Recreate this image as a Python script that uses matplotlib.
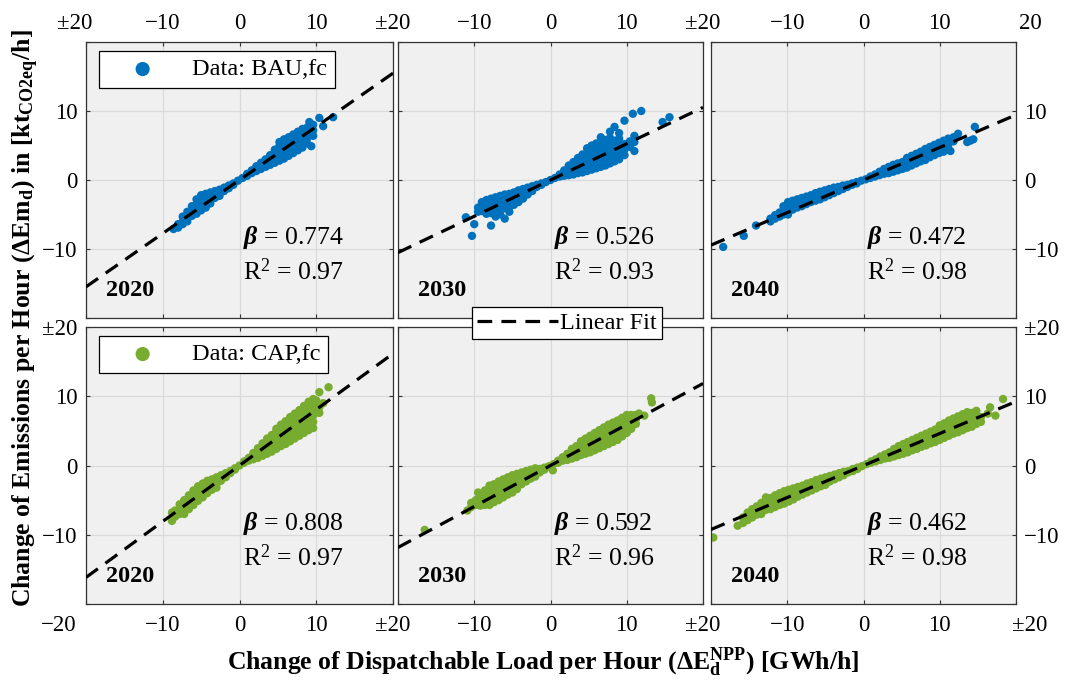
import matplotlib
matplotlib.use('Agg')
import matplotlib.pyplot as plt
import matplotlib.transforms as mtransforms

plt.rcParams['font.family'] = ['Liberation Serif', 'DejaVu Serif']
plt.rcParams['mathtext.fontset'] = 'custom'
plt.rcParams['mathtext.rm'] = 'Liberation Serif'
plt.rcParams['mathtext.it'] = 'Liberation Serif:italic'
plt.rcParams['mathtext.bf'] = 'Liberation Serif:bold'
plt.rcParams['mathtext.bfit'] = 'Liberation Serif:bold:italic'
plt.rcParams['mathtext.default'] = 'regular'

# ---------------- data ----------------
years = ['2020', '2030', '2040']
beta_bau = [0.774, 0.526, 0.472]
r2_bau = [0.97, 0.93, 0.98]
beta_cap = [0.808, 0.592, 0.462]
r2_cap = [0.97, 0.96, 0.98]

# each entry: (x, [y values at that x])
bau_2020 = [
    (-8.6, [-7.1]), (-8.0, [-6.4, -6.9]), (-7.4, [-5.3, -6.0, -6.4]),
    (-6.8, [-4.6, -5.3, -6.0]), (-6.2, [-3.8, -4.5, -5.2]),
    (-5.6, [-2.8, -3.5, -4.2, -4.9]), (-5.0, [-2.2, -2.9, -3.6, -4.4]),
    (-4.4, [-2.0, -2.7, -3.4, -4.0]), (-3.8, [-1.8, -2.4, -3.0, -3.4]),
    (-3.2, [-1.6, -2.1, -2.6]), (-2.6, [-1.4, -1.9, -2.3]),
    (-2.0, [-1.1, -1.6]), (-1.4, [-0.8, -1.2]), (-0.8, [-0.5, -0.7]),
    (-0.2, [-0.1]), (0.4, [0.3]), (1.0, [0.6, 0.9]), (1.6, [1.0, 1.4]),
    (2.2, [1.3, 1.8, 2.0]), (2.8, [1.6, 2.1, 2.5]), (3.4, [1.9, 2.5, 3.0]),
    (4.0, [2.2, 2.8, 3.4, 3.6]), (4.6, [2.5, 3.2, 3.8, 4.4]),
    (5.2, [2.8, 3.5, 4.2, 4.9, 5.5]), (5.8, [3.1, 3.8, 4.5, 5.2, 5.9]),
    (6.4, [3.5, 4.2, 4.9, 5.6, 6.2]), (7.0, [3.9, 4.6, 5.3, 6.0, 6.6]),
    (7.6, [4.3, 5.0, 5.7, 6.4, 7.0]), (8.2, [4.7, 5.4, 6.1, 6.8, 7.4]),
    (8.8, [5.3, 6.0, 6.8, 7.6]), (9.1, [8.4]), (9.35, [4.9]),
    (9.6, [6.4, 7.2, 8.0]), (10.4, [9.0]), (10.9, [7.8]), (12.2, [9.1]),
]
bau_2030 = [
    (-11.1, [-5.4]), (-10.3, [-8.1]), (-10.0, [-6.4]), (-9.5, [-4.0, -4.6]),
    (-9.0, [-3.2, -3.9, -4.5]), (-8.4, [-2.9, -3.5, -4.2, -4.9]),
    (-7.8, [-2.7, -3.4, -4.1, -4.8, -6.6]), (-7.2, [-2.5, -3.1, -3.8, -4.5, -5.3]),
    (-6.6, [-2.3, -3.0, -3.6, -4.3, -5.0]), (-6.0, [-2.1, -2.8, -3.4, -4.1, -5.6]),
    (-5.4, [-2.0, -2.6, -3.2, -3.9, -4.6]), (-4.8, [-1.8, -2.4, -3.0, -3.6]),
    (-4.2, [-1.5, -2.1, -2.7, -3.2]), (-3.6, [-1.3, -1.8, -2.3, -2.7]),
    (-3.0, [-1.1, -1.6, -2.1]), (-2.4, [-0.9, -1.3, -1.6]),
    (-1.8, [-0.7, -1.0]), (-1.2, [-0.5, -0.7]), (-0.6, [-0.3]), (0.0, [0.0]),
    (0.6, [0.3]), (1.2, [0.5, 0.8]), (1.8, [0.6, 1.1, 1.4]),
    (2.4, [0.7, 1.3, 1.8, 2.1]), (3.0, [0.8, 1.4, 2.0, 2.6]),
    (3.6, [1.0, 1.6, 2.2, 2.8, 3.2]), (4.2, [1.1, 1.7, 2.4, 3.0, 3.7]),
    (4.8, [1.3, 1.9, 2.6, 3.3, 4.0, 4.6]), (5.4, [1.5, 2.1, 2.8, 3.5, 4.2, 5.0]),
    (6.0, [1.7, 2.4, 3.1, 3.8, 4.5, 5.3]), (6.6, [1.9, 2.6, 3.3, 4.0, 4.7, 5.5, 6.2]),
    (7.2, [2.1, 2.8, 3.5, 4.2, 5.0, 5.8]), (7.8, [2.4, 3.1, 3.8, 4.5, 5.3, 6.1, 7.0]),
    (8.4, [2.7, 3.4, 4.1, 4.9, 5.7, 7.7]), (9.0, [3.0, 3.7, 4.4, 5.2, 6.0, 6.8]),
    (9.7, [3.6, 4.4, 5.2, 8.6]), (10.4, [4.8, 5.6]), (10.8, [9.6]),
    (11.0, [4.2, 5.5, 6.4]), (11.9, [10.0]), (14.7, [8.4]), (15.6, [9.1]),
]
bau_2040 = [
    (-18.4, [-9.7]), (-15.7, [-8.1]), (-14.1, [-6.6]), (-12.2, [-5.6, -6.0]),
    (-11.6, [-5.1, -5.6]), (-11.0, [-4.7, -5.3]), (-10.5, [-3.8, -4.5, -5.0]),
    (-9.9, [-3.2, -3.9, -4.6, -5.0]), (-9.3, [-3.0, -3.6, -4.3]),
    (-8.7, [-2.8, -3.4, -4.0]), (-8.1, [-2.6, -3.2, -3.8]),
    (-7.5, [-2.4, -2.9, -3.5]), (-6.9, [-2.2, -2.7, -3.2]),
    (-6.3, [-1.9, -2.5, -3.0]), (-5.7, [-1.7, -2.3, -2.8]),
    (-5.1, [-1.5, -2.0, -2.5]), (-4.5, [-1.3, -1.8, -2.2]),
    (-3.9, [-1.1, -1.6, -1.9]), (-3.3, [-1.0, -1.4, -1.6]),
    (-2.7, [-0.8, -1.1, -1.3]), (-2.1, [-0.7, -1.0]), (-1.5, [-0.5, -0.7]),
    (-0.9, [-0.3, -0.5]), (-0.3, [-0.1]), (0.3, [0.1]), (0.9, [0.3, 0.5]),
    (1.5, [0.5, 0.8]), (2.1, [0.7, 1.0, 1.2]), (2.7, [0.9, 1.3, 1.6]),
    (3.3, [1.0, 1.5, 1.9]), (3.9, [1.2, 1.7, 2.2]), (4.5, [1.4, 1.9, 2.4]),
    (5.1, [1.6, 2.1, 2.6]), (5.7, [1.8, 2.4, 2.9, 3.2]),
    (6.3, [2.1, 2.6, 3.2, 3.5]), (6.9, [2.4, 2.9, 3.4, 3.8]),
    (7.5, [2.7, 3.2, 3.7, 4.1]), (8.1, [2.9, 3.5, 4.0, 4.5]),
    (8.7, [3.3, 3.8, 4.3, 4.8]), (9.3, [3.6, 4.2, 4.7, 5.1]),
    (9.9, [3.9, 4.5, 5.0, 5.4]), (10.5, [4.1, 4.8, 5.3, 5.7]),
    (11.1, [4.4, 5.0, 5.6, 6.0]), (11.4, [4.2]), (11.8, [5.6, 6.2]),
    (12.4, [6.7]), (13.6, [5.5]), (14.0, [5.7]), (14.4, [5.9]), (14.6, [7.7]),
]
cap_2020 = [
    (-8.8, [-6.8, -8.0]), (-8.4, [-6.5, -7.4]), (-7.8, [-5.6, -6.3, -7.0]),
    (-7.2, [-5.0, -5.7, -6.4, -7.0]), (-6.6, [-4.3, -5.0, -5.7, -6.3]),
    (-6.0, [-3.6, -4.3, -5.0, -5.7]), (-5.4, [-3.0, -3.7, -4.4, -5.1]),
    (-4.8, [-2.6, -3.3, -3.9, -4.6]), (-4.2, [-2.2, -2.8, -3.4, -4.0]),
    (-3.6, [-2.0, -2.5, -3.0, -3.5]), (-3.0, [-1.7, -2.2, -2.7, -3.2]),
    (-2.4, [-1.4, -1.8, -2.2]), (-1.8, [-1.1, -1.4, -1.7]),
    (-1.2, [-0.8, -1.1]), (-0.6, [-0.4, -0.6]), (0.0, [0.0]),
    (0.6, [0.4, 0.6]), (1.2, [0.7, 1.1]), (1.8, [0.9, 1.4, 1.8]),
    (2.4, [1.1, 1.7, 2.2, 2.5]), (3.0, [1.4, 2.0, 2.6, 3.2]),
    (3.6, [1.7, 2.3, 2.9, 3.5, 3.9]), (4.2, [2.0, 2.6, 3.2, 3.8, 4.4]),
    (4.8, [2.4, 3.0, 3.7, 4.3, 4.9, 5.3]), (5.4, [2.8, 3.4, 4.1, 4.8, 5.4, 5.9]),
    (6.0, [3.1, 3.8, 4.5, 5.2, 5.9, 6.4]), (6.6, [3.5, 4.2, 4.9, 5.6, 6.3, 7.0]),
    (7.2, [3.9, 4.6, 5.3, 6.0, 6.7, 7.5]), (7.8, [4.3, 5.0, 5.8, 6.5, 7.2, 8.0]),
    (8.4, [4.7, 5.4, 6.2, 7.0, 7.8, 8.6]), (9.0, [5.1, 5.9, 6.7, 7.5, 8.3, 9.2]),
    (9.6, [5.4, 6.3, 7.2, 8.1, 8.8, 9.6]), (10.0, [9.4]),
    (10.4, [7.6, 8.4, 10.6]), (10.9, [9.0]), (11.6, [11.3]),
]
cap_2030 = [
    (-16.5, [-9.3]), (-10.9, [-6.5]), (-10.4, [-5.4, -6.0]), (-9.8, [-5.0, -5.7]),
    (-9.5, [-3.9]), (-9.2, [-4.4, -5.1, -5.8]), (-8.6, [-3.6, -4.3, -5.0, -5.7]),
    (-8.0, [-2.9, -3.6, -4.3, -5.0, -5.7]), (-7.4, [-2.7, -3.4, -4.1, -4.8, -5.3]),
    (-6.8, [-2.3, -3.0, -3.7, -4.4, -5.0]), (-6.2, [-2.0, -2.7, -3.4, -4.1, -4.6]),
    (-5.6, [-1.7, -2.4, -3.1, -3.8, -4.2]), (-5.0, [-1.4, -2.1, -2.8, -3.5, -3.9]),
    (-4.4, [-1.2, -1.8, -2.4, -3.0, -3.4]), (-3.8, [-1.0, -1.6, -2.2, -2.7]),
    (-3.2, [-0.8, -1.4, -1.9, -2.3]), (-2.6, [-0.6, -1.1, -1.6, -1.9]),
    (-2.0, [-0.4, -0.9, -1.3, -1.6]), (-1.4, [-0.5, -0.8, -1.0]),
    (-0.8, [-0.3, -0.6]), (-0.2, [-0.1]), (0.3, [-0.7]), (0.4, [0.2]),
    (1.0, [0.4, 0.7]), (1.6, [0.7, 1.0, 1.2]), (2.2, [0.8, 1.3, 1.7]),
    (2.8, [1.0, 1.5, 2.0, 2.4]), (3.4, [1.2, 1.8, 2.3, 2.8]),
    (4.0, [1.5, 2.0, 2.6, 3.2, 3.5]), (4.6, [1.7, 2.3, 2.9, 3.5, 3.9]),
    (5.2, [1.9, 2.6, 3.2, 3.8, 4.3]), (5.8, [2.2, 2.9, 3.6, 4.2, 4.7]),
    (6.4, [2.5, 3.2, 3.9, 4.6, 5.1]), (7.0, [2.8, 3.5, 4.2, 4.9, 5.5]),
    (7.6, [3.1, 3.8, 4.5, 5.2, 5.9]), (8.2, [3.4, 4.1, 4.8, 5.5, 6.2]),
    (8.8, [3.7, 4.4, 5.1, 5.8, 6.5]), (9.4, [4.2, 4.9, 5.6, 6.3, 6.9]),
    (10.0, [4.7, 5.4, 6.1, 6.8, 7.3]), (10.6, [5.3, 6.0, 6.7, 7.3]),
    (11.2, [6.0, 6.7, 7.3]), (11.6, [7.5]), (12.3, [7.2]),
    (13.2, [9.7]), (13.3, [9.1]),
]
cap_2040 = [
    (-19.7, [-10.4]), (-16.5, [-8.7]), (-15.8, [-8.3, -7.5]),
    (-15.2, [-6.8, -7.4, -7.9]), (-14.6, [-6.3, -6.9, -7.5]),
    (-14.0, [-5.9, -6.5, -7.1]), (-13.4, [-5.4, -6.0, -6.6, -7.0]),
    (-12.8, [-4.6, -5.2, -5.8, -6.4]), (-12.2, [-4.7, -5.3, -5.9, -6.3]),
    (-11.6, [-4.3, -4.9, -5.5, -6.0]), (-11.0, [-4.0, -4.6, -5.2, -5.7]),
    (-10.4, [-3.7, -4.3, -4.9, -5.5]), (-9.8, [-3.5, -4.1, -4.7, -5.2]),
    (-9.2, [-3.3, -3.8, -4.4, -4.9]), (-8.6, [-3.1, -3.6, -4.1, -4.5]),
    (-8.0, [-2.9, -3.4, -3.9, -4.2]), (-7.4, [-2.6, -3.1, -3.6, -3.9]),
    (-6.8, [-2.4, -2.9, -3.3, -3.6]), (-6.2, [-2.1, -2.6, -3.1, -3.3]),
    (-5.6, [-1.9, -2.4, -2.8, -3.0]), (-5.0, [-1.7, -2.2, -2.6, -2.8]),
    (-4.4, [-1.5, -1.9, -2.3]), (-3.8, [-1.3, -1.7, -2.0]),
    (-3.2, [-1.1, -1.5, -1.7]), (-2.6, [-0.9, -1.2, -1.4]),
    (-2.0, [-0.8, -1.0]), (-1.4, [-0.5, -0.8]), (-0.8, [-0.3, -0.5]),
    (-0.2, [-0.1]), (0.4, [0.2]), (1.0, [0.4, 0.6]), (1.6, [0.6, 0.9]),
    (2.2, [0.8, 1.1, 1.3]), (2.8, [1.0, 1.4, 1.6]), (3.4, [1.1, 1.6, 1.9]),
    (4.0, [1.3, 1.8, 2.2, 2.4]), (4.6, [1.5, 2.0, 2.5, 2.8]),
    (5.2, [1.7, 2.3, 2.8, 3.1]), (5.8, [1.9, 2.5, 3.1, 3.4]),
    (6.4, [2.2, 2.8, 3.3, 3.7]), (7.0, [2.4, 3.0, 3.6, 4.0]),
    (7.6, [2.7, 3.3, 3.9, 4.3]), (8.2, [2.9, 3.5, 4.1, 4.6]),
    (8.8, [3.2, 3.8, 4.4, 4.9]), (9.4, [3.4, 4.0, 4.7, 5.2]),
    (10.0, [3.7, 4.3, 4.9, 5.5, 5.8]), (10.6, [4.0, 4.6, 5.2, 5.8, 6.1]),
    (11.2, [4.3, 4.9, 5.5, 6.1, 6.5]), (11.8, [4.6, 5.2, 5.8, 6.4, 6.8]),
    (12.4, [4.8, 5.5, 6.1, 6.7, 7.1]), (13.0, [5.1, 5.8, 6.4, 7.0, 7.4]),
    (13.6, [5.4, 6.1, 6.7, 7.3, 7.7]), (14.2, [5.6, 6.3, 7.0, 7.6]),
    (14.8, [6.0, 6.6, 7.2, 7.9]), (15.4, [6.3, 7.0]), (16.3, [7.5]),
    (16.6, [8.4]), (17.3, [7.2]), (18.3, [9.6]),
]

xtick_vals = [-20, -10, 0, 10, 20]
ytick_vals = [-20, -10, 0, 10, 20]
xlabels_top = [['±20', '−10', '0', '10', '±20'],
               ['', '−10', '0', '10', '±20'],
               ['', '−10', '0', '10', '20']]
xlabels_bottom = [['−20', '−10', '0', '10', '±20'],
                  ['', '−10', '0', '10', '±20'],
                  ['', '−10', '0', '10', '±20']]
ylabels_top = ['', '−10', '0', '10', '']
ylabels_bottom = ['', '−10', '0', '10', '±20']

BLUE = '#0072BD'
GREEN = '#77AC30'
BG = '#F0F0F0'
GRID = '#DADADA'
SPINE = '#333333'


def expand(cols):
    xs, ys = [], []
    for x, yl in cols:
        for y in yl:
            xs.append(x)
            ys.append(y)
    return xs, ys


W, H = 1067, 681
fig = plt.figure(figsize=(W / 100, H / 100), dpi=100)

col_px = [(86, 307), (398, 305), (711, 305)]
row_px = [(42, 318), (327, 604)]

rows = [
    ([bau_2020, bau_2030, bau_2040], beta_bau, r2_bau, BLUE, 'Data: BAU,fc'),
    ([cap_2020, cap_2030, cap_2040], beta_cap, r2_cap, GREEN, 'Data: CAP,fc'),
]

fit_handle = None
for r, (datasets, betas, r2s, color, lab) in enumerate(rows):
    top, bot = row_px[r]
    for c in range(3):
        left, width = col_px[c]
        ax = fig.add_axes([left / W, 1 - bot / H, width / W, (bot - top) / H])
        ax.set_facecolor(BG)
        ax.set_xlim(-20, 20)
        ax.set_ylim(-20, 20)
        ax.set_xticks(xtick_vals)
        ax.set_yticks(ytick_vals)
        ax.grid(True, color=GRID, linewidth=0.9, zorder=0)
        ax.set_axisbelow(True)
        for s in ax.spines.values():
            s.set_color(SPINE)
            s.set_linewidth(0.9)

        xs, ys = expand(datasets[c])
        sc = ax.scatter(xs, ys, s=36, color=color, edgecolors='none', zorder=2,
                        label=lab)
        b = betas[c]
        fx = [-20, 20]
        fy = [b * v for v in fx]
        ln, = ax.plot(fx, fy, color='black', linewidth=2.3, dashes=(4.6, 2.9),
                      zorder=3, label='Linear Fit')
        fit_handle = ln

        ax.text(0.512, 0.292, r'$\mathbfit{\beta}$ = %.3f' % b, transform=ax.transAxes,
                fontsize=18.5, ha='left', va='center', zorder=5)
        ax.text(0.512, 0.167, r'R$^{2}$ = %.2f' % r2s[c], transform=ax.transAxes,
                fontsize=18.5, ha='left', va='center', zorder=5)
        ax.text(0.066, 0.098, years[c], transform=ax.transAxes, fontsize=17.5,
                fontweight='bold', ha='left', va='center', zorder=5)

        # ticks
        ax.tick_params(axis='both', direction='in', length=3, width=0.8,
                       colors=SPINE, labelcolor='black', labelsize=16.5,
                       top=True, bottom=True, left=True, right=True)
        if r == 0:
            ax.tick_params(axis='x', labeltop=True, labelbottom=False, pad=6)
            ax.set_xticklabels(xlabels_top[c])
            ylabs = ylabels_top
        else:
            ax.tick_params(axis='x', labeltop=False, labelbottom=True, pad=8)
            ax.set_xticklabels(xlabels_bottom[c])
            ylabs = ylabels_bottom
        ax.set_yticklabels(ylabs)
        if c == 0:
            ax.tick_params(axis='y', labelleft=True, labelright=False, pad=6)
        elif c == 2:
            ax.tick_params(axis='y', labelleft=False, labelright=True, pad=6)
        else:
            ax.tick_params(axis='y', labelleft=False, labelright=False)

        if c == 0:
            leg = ax.legend(handles=[sc], loc='upper left',
                            bbox_to_anchor=(0.042, 0.967), borderaxespad=0,
                            fontsize=17.5, markerscale=1.7, handlelength=3.0,
                            handletextpad=0.55, borderpad=0.3, fancybox=False,
                            framealpha=1, edgecolor='black', scatterpoints=1)
            leg.get_frame().set_linewidth(0.9)
            leg.set_zorder(10)

        # shift the outer edge labels like in the original
        ticks = ax.xaxis.get_major_ticks()
        if c == 0:
            dx = -11 if r == 0 else -27
            t = ticks[0].label2 if r == 0 else ticks[0].label1
            t.set_transform(t.get_transform() +
                            mtransforms.ScaledTranslation(dx / 100, 0, fig.dpi_scale_trans))
        if c == 2:
            t = ticks[-1].label2 if r == 0 else ticks[-1].label1
            t.set_transform(t.get_transform() +
                            mtransforms.ScaledTranslation(14 / 100, 0, fig.dpi_scale_trans))

fleg = fig.legend(handles=[fit_handle], loc='center',
                  bbox_to_anchor=(567 / W, 1 - 323 / H), fontsize=17.5,
                  handlelength=3.3, handletextpad=0.1, borderpad=0.22,
                  fancybox=False, framealpha=1, edgecolor='black')
fleg.get_frame().set_linewidth(0.9)

fig.text(543 / W, 1 - 662 / H,
         r'Change of Dispatchable Load per Hour ($\Delta$E$_{\mathbf{d}}^{\mathbf{NPP}}$) [GWh/h]',
         fontsize=18.5, fontweight='bold', ha='center', va='center')
fig.text(26 / W, 1 - 318 / H,
         r'Change of Emissions per Hour ($\Delta$Em$_{\mathbf{d}}$) in [kt$_{\mathbf{CO2eq}}$/h]',
         fontsize=18.5, fontweight='bold', ha='center', va='center', rotation=90)

fig.savefig('out.png', dpi=100, facecolor='white')
